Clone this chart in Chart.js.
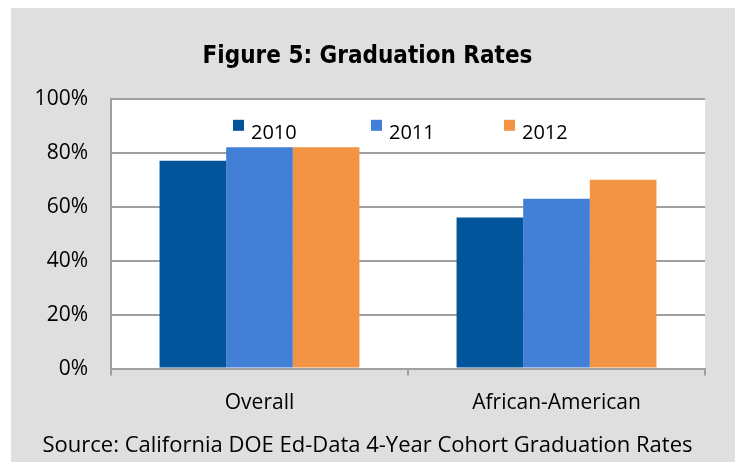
<!DOCTYPE html>
<html><head><meta charset="utf-8">
<script src="https://cdn.jsdelivr.net/npm/chart.js@4.4.1/dist/chart.umd.min.js"></script>
<style>html,body{margin:0;padding:0;background:#fff;}#wrap{width:735px;height:462px;}</style>
</head><body><div id="wrap"><canvas id="c" width="735" height="462"></canvas></div>
<script>
const categories = ["Overall", "African-American"];
const seriesLabels = ["2010", "2011", "2012"];
const values2010 = [77, 56];
const values2011 = [82, 63];
const values2012 = [82, 70];
const yTicks = [0, 20, 40, 60, 80, 100];
const colors = ["#02559a", "#427fd7", "#f29443"];
const FONT = "'Open Sans', 'Noto Sans', sans-serif";

const bgPlugin = {
  id: 'bg',
  beforeDraw(chart) {
    const ctx = chart.ctx;
    ctx.save();
    ctx.fillStyle = '#ffffff';
    ctx.fillRect(0, 0, chart.width, chart.height);
    ctx.fillStyle = '#dfdfdf';
    ctx.fillRect(11, 8, chart.width - 11, chart.height - 8);
    const a = chart.chartArea;
    ctx.fillStyle = '#ffffff';
    ctx.fillRect(a.left, a.top, a.right - a.left, a.bottom - a.top);
    ctx.restore();
  }
};

const legendPlugin = {
  id: 'inlegend',
  afterDatasetsDraw(chart) {
    const ctx = chart.ctx;
    const a = chart.chartArea;
    const offsets = [122, 260, 393];
    ctx.save();
    ctx.font = "20px " + FONT;
    ctx.textBaseline = 'alphabetic';
    ctx.textAlign = 'left';
    chart.data.datasets.forEach((ds, i) => {
      const x = a.left + offsets[i];
      ctx.fillStyle = ds.backgroundColor;
      ctx.fillRect(x, a.top + 21, 11, 11);
      ctx.fillStyle = '#000';
      ctx.fillText(ds.label, x + 18, a.top + 40);
    });
    ctx.restore();
  }
};

new Chart(document.getElementById('c'), {
  type: 'bar',
  data: {
    labels: categories,
    datasets: [
      { label: seriesLabels[0], data: values2010, backgroundColor: colors[0] },
      { label: seriesLabels[1], data: values2011, backgroundColor: colors[1] },
      { label: seriesLabels[2], data: values2012, backgroundColor: colors[2] }
    ]
  },
  options: {
    responsive: false,
    animation: false,
    devicePixelRatio: 1,
    layout: { padding: { left: 0, right: 0, top: 0, bottom: 0 } },
    datasets: { bar: { categoryPercentage: 0.673, barPercentage: 1.0 } },
    plugins: {
      legend: { display: false },
      tooltip: { enabled: false },
      title: {
        display: true,
        text: 'Figure 5: Graduation Rates',
        color: '#000',
        font: { family: "'Liberation Sans Narrow', 'DejaVu Sans Condensed', sans-serif", size: 24, weight: 'bold', lineHeight: 1.2 },
        padding: { top: 42, bottom: 28 }
      },
      subtitle: {
        display: true,
        position: 'bottom',
        text: 'Source: California DOE Ed-Data 4-Year Cohort Graduation Rates',
        color: '#000',
        font: { family: FONT, size: 22 },
        padding: { top: 0, bottom: 3 }
      }
    },
    scales: {
      x: {
        offset: true,
        grid: { display: true, drawOnChartArea: false, drawTicks: true, tickLength: 7, color: '#a0a0a0', lineWidth: 2, offset: true },
        border: { display: true, color: '#a0a0a0', width: 2 },
        ticks: { color: '#000', font: { family: FONT, size: 21 }, padding: 15 },
        afterFit(s) { s.height = 64; }
      },
      y: {
        min: 0, max: 100,
        afterBuildTicks(s) { s.ticks = yTicks.map(v => ({ value: v })); },
        grid: { color: '#a0a0a0', lineWidth: 2, drawTicks: false },
        border: { display: true, color: '#a0a0a0', width: 2 },
        ticks: { color: '#000', font: { family: FONT, size: 21 }, padding: 23, callback: v => v + '%' },
        afterFit(s) { s.width = 111; }
      },
      spacer: {
        position: 'right',
        type: 'linear',
        display: true,
        grid: { display: false, drawTicks: false },
        border: { display: false },
        ticks: { display: false },
        afterFit(s) { s.width = 30; }
      }
    }
  },
  plugins: [bgPlugin, legendPlugin]
});
</script>
</body></html>
